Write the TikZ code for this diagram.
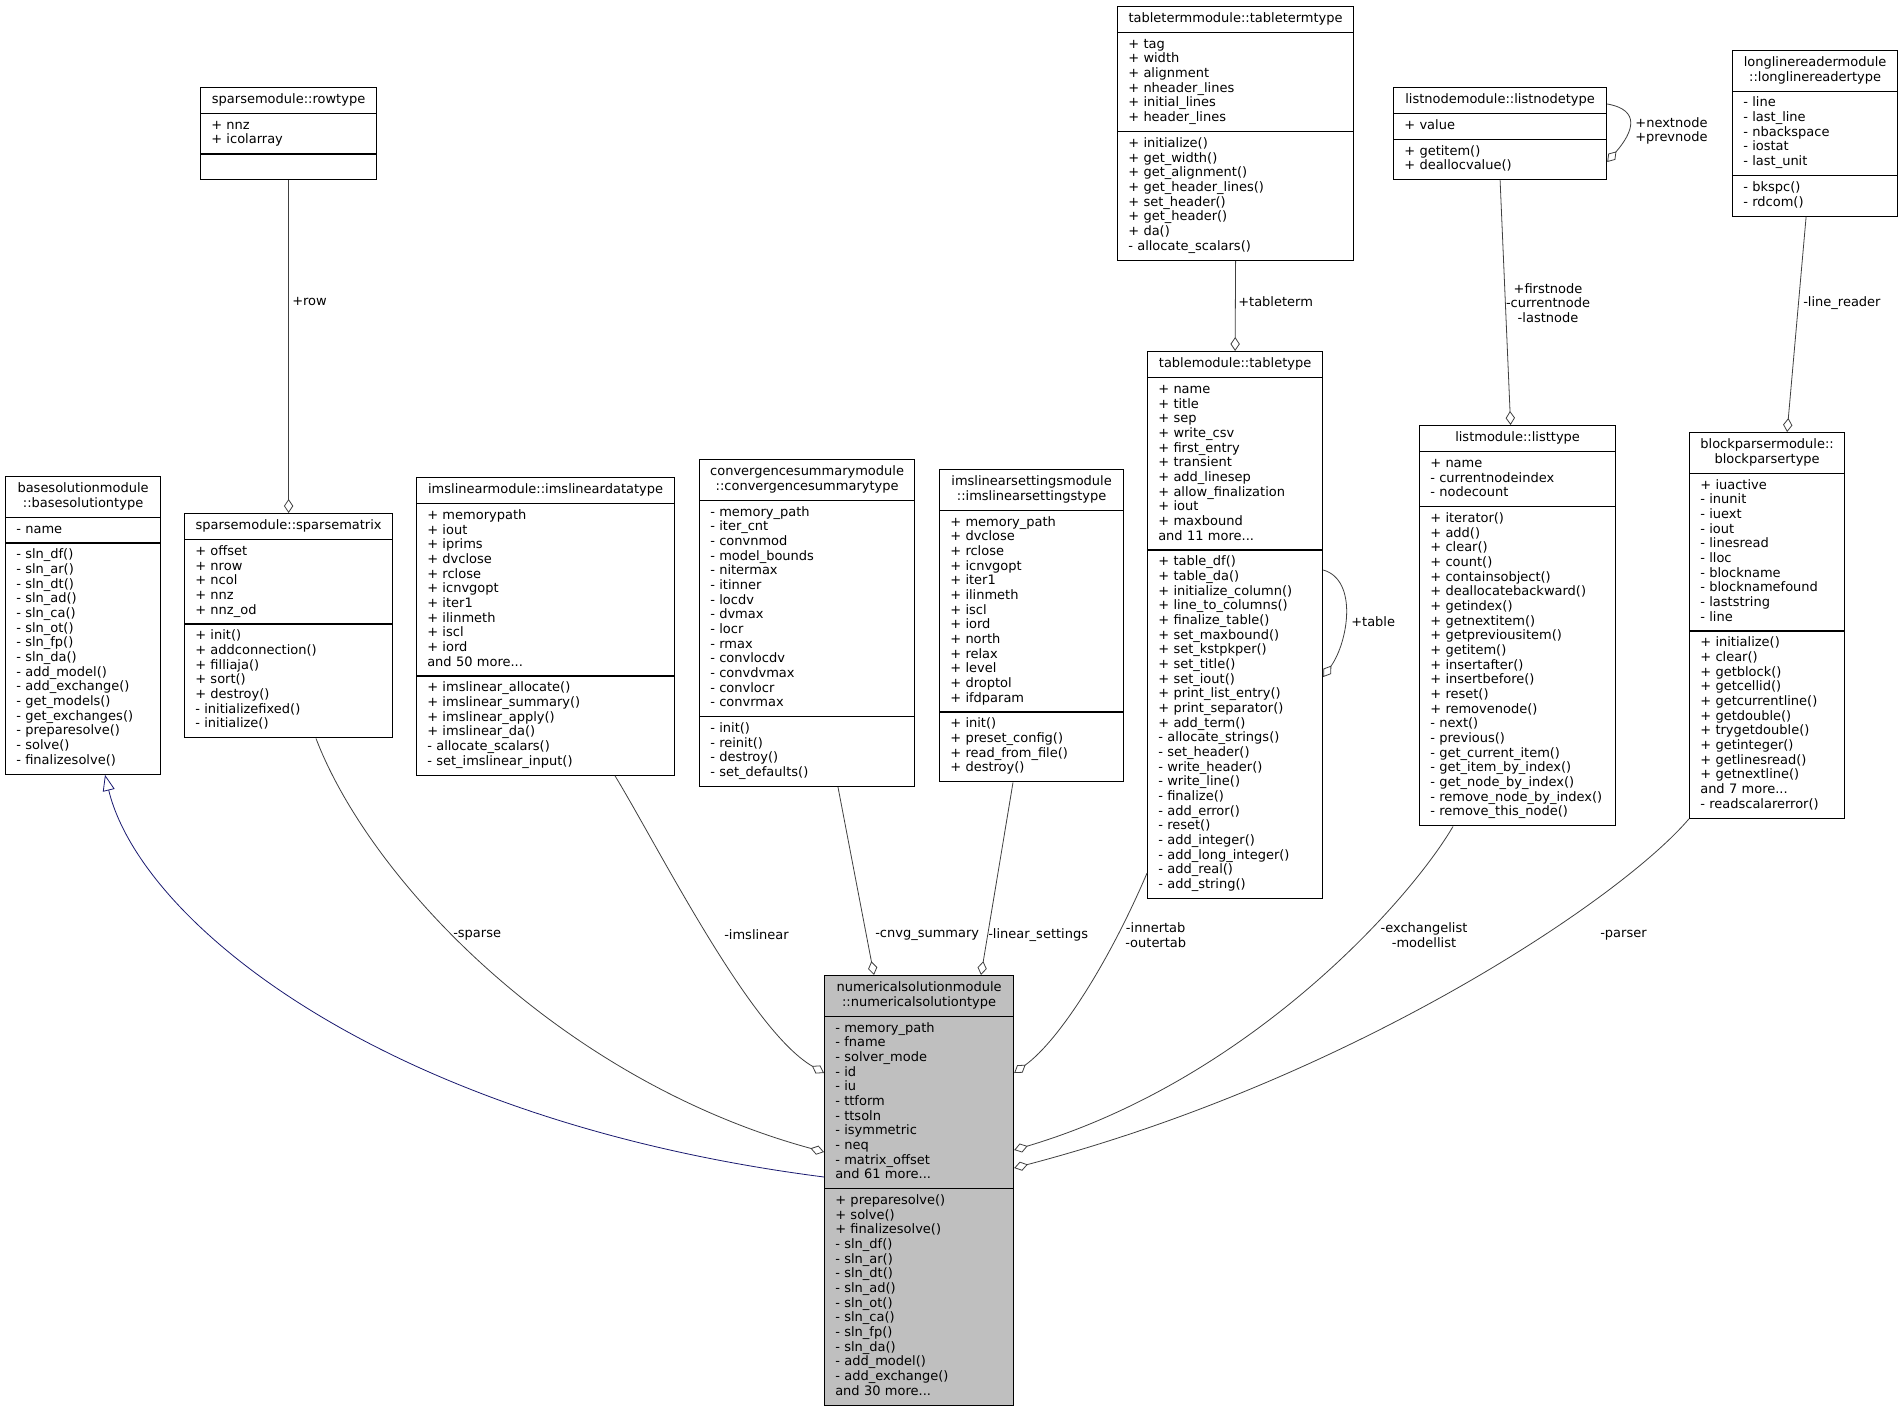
\documentclass[tikz,border=0pt]{standalone}
\usepackage{fontspec}
\setmainfont{DejaVu Sans}
\usetikzlibrary{arrows.meta,shapes.multipart,calc}
\definecolor{EdgeGray}{HTML}{404040}
\definecolor{InheritBlue}{HTML}{191970}
\definecolor{FocusGray}{HTML}{BFBFBF}

% one centred title line inside a class box
\newcommand{\ctline}[1]{\makebox[\hsize]{\strut#1}}

\tikzset{
  classbox/.style={rectangle split, rectangle split parts=3, draw=black,
    line width=0.9pt, fill=white, anchor=north west, text width=#1,
    align=left, inner xsep=8pt, inner ysep=3.75pt,
    font=\fontsize{9.75}{11}\selectfont},
  assoc/.style={draw=EdgeGray, line width=0.6pt,
    -{Diamond[open,length=10.5pt,width=7pt]}},
  inherit/.style={draw=InheritBlue, line width=0.6pt,
    {Triangle[open,length=12pt,width=9pt]}-},
  elabel/.style={font=\fontsize{9.75}{11}\selectfont, align=center, inner sep=0pt},
}

\begin{document}
\begin{tikzpicture}[x=0.75pt, y=-0.75pt]
  \useasboundingbox[fill=white] (0,0) rectangle (1903,1409);

  % classes
  \node[classbox=116pt] (rowtype) at (200,87)
    {\ctline{sparsemodule::rowtype}
     \nodepart{two}\strut + nnz\\+ icolarray\strut
     \nodepart{three}\strut};
  \node[classbox=100.25pt] (basesol) at (5,476)
    {\ctline{basesolutionmodule}\\\ctline{::basesolutiontype}
     \nodepart{two}\strut - name\strut
     \nodepart{three}\strut - sln\_df()\\- sln\_ar()\\- sln\_dt()\\- sln\_ad()\\- sln\_ca()\\- sln\_ot()\\- sln\_fp()\\- sln\_da()\\- add\_model()\\- add\_exchange()\\- get\_models()\\- get\_exchanges()\\- preparesolve()\\- solve()\\- finalizesolve()\strut};
  \node[classbox=140pt] (sparsemat) at (184,513)
    {\ctline{sparsemodule::sparsematrix}
     \nodepart{two}\strut + offset\\+ nrow\\+ ncol\\+ nnz\\+ nnz\_od\strut
     \nodepart{three}\strut + init()\\+ addconnection()\\+ filliaja()\\+ sort()\\+ destroy()\\- initializefixed()\\- initialize()\strut};
  \node[classbox=177.5pt] (imslin) at (416,477)
    {\ctline{imslinearmodule::imslineardatatype}
     \nodepart{two}\strut + memorypath\\+ iout\\+ iprims\\+ dvclose\\+ rclose\\+ icnvgopt\\+ iter1\\+ ilinmeth\\+ iscl\\+ iord\\and 50 more...\strut
     \nodepart{three}\strut + imslinear\_allocate()\\+ imslinear\_summary()\\+ imslinear\_apply()\\+ imslinear\_da()\\- allocate\_scalars()\\- set\_imslinear\_input()\strut};
  \node[classbox=145.25pt] (convsum) at (699,459)
    {\ctline{convergencesummarymodule}\\\ctline{::convergencesummarytype}
     \nodepart{two}\strut - memory\_path\\- iter\_cnt\\- convnmod\\- model\_bounds\\- nitermax\\- itinner\\- locdv\\- dvmax\\- locr\\- rmax\\- convlocdv\\- convdvmax\\- convlocr\\- convrmax\strut
     \nodepart{three}\strut - init()\\- reinit()\\- destroy()\\- set\_defaults()\strut};
  \node[classbox=122pt] (imsset) at (939,469)
    {\ctline{imslinearsettingsmodule}\\\ctline{::imslinearsettingstype}
     \nodepart{two}\strut + memory\_path\\+ dvclose\\+ rclose\\+ icnvgopt\\+ iter1\\+ ilinmeth\\+ iscl\\+ iord\\+ north\\+ relax\\+ level\\+ droptol\\+ ifdparam\strut
     \nodepart{three}\strut + init()\\+ preset\_config()\\+ read\_from\_file()\\+ destroy()\strut};
  \node[classbox=161pt] (tableterm) at (1117,6)
    {\ctline{tabletermmodule::tabletermtype}
     \nodepart{two}\strut + tag\\+ width\\+ alignment\\+ nheader\_lines\\+ initial\_lines\\+ header\_lines\strut
     \nodepart{three}\strut + initialize()\\+ get\_width()\\+ get\_alignment()\\+ get\_header\_lines()\\+ set\_header()\\+ get\_header()\\+ da()\\- allocate\_scalars()\strut};
  \node[classbox=115.25pt] (tabletype) at (1147,351)
    {\ctline{tablemodule::tabletype}
     \nodepart{two}\strut + name\\+ title\\+ sep\\+ write\_csv\\+ first\_entry\\+ transient\\+ add\_linesep\\+ allow\_finalization\\+ iout\\+ maxbound\\and 11 more...\strut
     \nodepart{three}\strut + table\_df()\\+ table\_da()\\+ initialize\_column()\\+ line\_to\_columns()\\+ finalize\_table()\\+ set\_maxbound()\\+ set\_kstpkper()\\+ set\_title()\\+ set\_iout()\\+ print\_list\_entry()\\+ print\_separator()\\+ add\_term()\\- allocate\_strings()\\- set\_header()\\- write\_header()\\- write\_line()\\- finalize()\\- add\_error()\\- reset()\\- add\_integer()\\- add\_long\_integer()\\- add\_real()\\- add\_string()\strut};
  \node[classbox=143.75pt] (listnode) at (1393,87)
    {\ctline{listnodemodule::listnodetype}
     \nodepart{two}\strut + value\strut
     \nodepart{three}\strut + getitem()\\+ deallocvalue()\strut};
  \node[classbox=131pt] (listtype) at (1419,425)
    {\ctline{listmodule::listtype}
     \nodepart{two}\strut + name\\- currentnodeindex\\- nodecount\strut
     \nodepart{three}\strut + iterator()\\+ add()\\+ clear()\\+ count()\\+ containsobject()\\+ deallocatebackward()\\+ getindex()\\+ getnextitem()\\+ getpreviousitem()\\+ getitem()\\+ insertafter()\\+ insertbefore()\\+ reset()\\+ removenode()\\- next()\\- previous()\\- get\_current\_item()\\- get\_item\_by\_index()\\- get\_node\_by\_index()\\- remove\_node\_by\_index()\\- remove\_this\_node()\strut};
  \node[classbox=107.75pt] (longline) at (1732,50)
    {\ctline{longlinereadermodule}\\\ctline{::longlinereadertype}
     \nodepart{two}\strut - line\\- last\_line\\- nbackspace\\- iostat\\- last\_unit\strut
     \nodepart{three}\strut - bkspc()\\- rdcom()\strut};
  \node[classbox=100.25pt] (blockparser) at (1689,432)
    {\ctline{blockparsermodule::}\\\ctline{blockparsertype}
     \nodepart{two}\strut + iuactive\\- inunit\\- iuext\\- iout\\- linesread\\- lloc\\- blockname\\- blocknamefound\\- laststring\\- line\strut
     \nodepart{three}\strut + initialize()\\+ clear()\\+ getblock()\\+ getcellid()\\+ getcurrentline()\\+ getdouble()\\+ trygetdouble()\\+ getinteger()\\+ getlinesread()\\+ getnextline()\\and 7 more...\\- readscalarerror()\strut};
  \node[classbox=125.75pt, fill=FocusGray] (numsol) at (824,975)
    {\ctline{numericalsolutionmodule}\\\ctline{::numericalsolutiontype}
     \nodepart{two}\strut - memory\_path\\- fname\\- solver\_mode\\- id\\- iu\\- ttform\\- ttsoln\\- isymmetric\\- neq\\- matrix\_offset\\and 61 more...\strut
     \nodepart{three}\strut + preparesolve()\\+ solve()\\+ finalizesolve()\\- sln\_df()\\- sln\_ar()\\- sln\_dt()\\- sln\_ad()\\- sln\_ot()\\- sln\_ca()\\- sln\_fp()\\- sln\_da()\\- add\_model()\\- add\_exchange()\\and 30 more...\strut};

  % top level links
  \draw[assoc] (rowtype.south) -- (sparsemat.north);
  \draw[assoc] (tableterm.south) -- (tabletype.north);
  \draw[assoc] (listnode.south) -- ([xshift=-5.25pt]listtype.north);
  \draw[assoc] ([xshift=-6.75pt]longline.south) -- ([xshift=15pt]blockparser.north);
  \draw[assoc] ([yshift=-164.25pt]tabletype.north east)
    .. controls +(35,10) and +(25,-35) .. ([yshift=-244.5pt]tabletype.north east);
  \draw[assoc] ([yshift=-12.75pt]listnode.north east)
    .. controls +(34,6) and +(26,-30) .. ([yshift=-56.25pt]listnode.north east);

  % links into the numerical solution
  \draw[inherit] ([xshift=75pt]basesol.south west)
    .. controls (140,920) and (380,1120) .. ([yshift=-151.5pt]numsol.north west);
  \draw[assoc] ([xshift=99pt]sparsemat.south west)
    .. controls (370,880) and (560,1080) .. ([yshift=-132.75pt]numsol.north west);
  \draw[assoc] ([xshift=149.25pt]imslin.south west)
    .. controls (660,850) and (750,1030) .. ([yshift=-73.5pt]numsol.north west);
  \draw[assoc] ([xshift=104.25pt]convsum.south west) -- ([xshift=37.5pt]numsol.north west);
  \draw[assoc] ([xshift=55.5pt]imsset.south west) -- ([xshift=117.75pt]numsol.north west);
  \draw[assoc] ([yshift=19.5pt]tabletype.south west)
    .. controls (1110,960) and (1060,1040) .. ([yshift=-73.5pt]numsol.north east);
  \draw[assoc] ([xshift=25.5pt]listtype.south west)
    .. controls (1410,900) and (1250,1080) .. ([yshift=-131.25pt]numsol.north east);
  \draw[assoc] (blockparser.south west)
    .. controls (1620,900) and (1350,1080) .. ([yshift=-144.75pt]numsol.north east);

  % link labels
  \node[elabel, anchor=west] (lrow) at (292,302) {+row};
  \node[elabel, anchor=west] (lterm) at (1238,302) {+tableterm};
  \node[elabel] (lfirst) at (1548,303) {+firstnode\\-currentnode\\-lastnode};
  \node[elabel, anchor=west] (lreader) at (1803,303) {-line\_reader};
  \node[elabel, anchor=west] (ltable) at (1351,622) {+table};
  \node[elabel, anchor=west] (lnext) at (1635,131) {+nextnode\\+prevnode};
  \node[elabel, anchor=west] (lsparse) at (453,935) {-sparse};
  \node[elabel, anchor=west] (limslin) at (724,935) {-imslinear};
  \node[elabel, anchor=west] (lcnvg) at (875,935) {-cnvg\_summary};
  \node[elabel, anchor=west] (lset) at (988,935) {-linear\_settings};
  \node[elabel, anchor=west] (ltab) at (1125,935) {-innertab\\-outertab};
  \node[elabel] (lexch) at (1424,935) {-exchangelist\\-modellist};
  \node[elabel, anchor=west] (lparser) at (1600,935) {-parser};
\end{tikzpicture}
\end{document}
